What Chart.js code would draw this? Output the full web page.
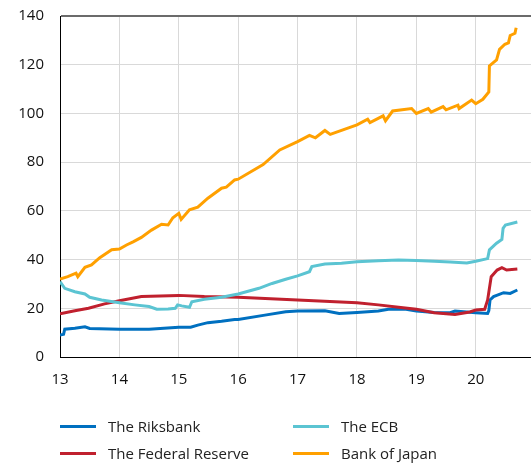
<!DOCTYPE html>
<html>
<head>
<meta charset="utf-8">
<script src="https://cdn.jsdelivr.net/npm/chart.js@4"></script>
<style>
  body { margin: 0; overflow: hidden; background: #fff; }
  #wrap { position: relative; width: 531px; height: 464px; }
  #legend { position: absolute; left: 0; top: 0; width: 531px; height: 464px; pointer-events: none;
    font-family: "Open Sans", sans-serif; font-size: 15px; color: #222; }
  .item { position: absolute; display: flex; align-items: center; white-space: nowrap; }
  .swatch { width: 36px; height: 3px; margin-right: 12px; }
</style>
</head>
<body>
<div id="wrap">
  <canvas id="chart" width="531" height="464"></canvas>
  <div id="legend"></div>
</div>
<script>
const xTicks = [13, 14, 15, 16, 17, 18, 19, 20];

const rbX = [13.0, 13.06, 13.08, 13.25, 13.42, 13.5, 14.0, 14.5, 15.0, 15.2, 15.32, 15.49, 15.72, 15.94, 16.0, 16.45, 16.8, 17.0, 17.46, 17.7, 18.0, 18.36, 18.53, 18.8, 19.0, 19.3, 19.57, 19.65, 20.0, 20.2, 20.22, 20.24, 20.3, 20.47, 20.58, 20.7];
const rbY = [9.0, 9.3, 11.4, 11.8, 12.4, 11.7, 11.4, 11.4, 12.2, 12.2, 13.1, 14.1, 14.7, 15.4, 15.4, 17.2, 18.6, 18.9, 19.0, 17.9, 18.3, 18.9, 19.6, 19.7, 18.9, 18.3, 18.2, 18.9, 18.2, 17.9, 19.0, 23.4, 24.8, 26.4, 26.1, 27.5];

const ecbX = [13.0, 13.08, 13.25, 13.42, 13.5, 13.7, 14.0, 14.26, 14.5, 14.63, 14.82, 14.94, 14.98, 15.05, 15.18, 15.22, 15.43, 15.72, 16.0, 16.35, 16.57, 16.8, 17.0, 17.2, 17.24, 17.46, 17.74, 18.0, 18.36, 18.7, 19.0, 19.3, 19.57, 19.85, 20.0, 20.2, 20.23, 20.35, 20.44, 20.46, 20.5, 20.7];
const ecbY = [30.9, 28.2, 26.8, 25.9, 24.5, 23.4, 22.3, 21.4, 20.7, 19.6, 19.7, 20.0, 21.4, 21.0, 20.4, 22.7, 23.7, 24.5, 25.9, 28.2, 30.2, 31.9, 33.3, 35.0, 37.1, 38.2, 38.5, 39.1, 39.5, 39.8, 39.6, 39.3, 39.0, 38.6, 39.3, 40.4, 44.0, 46.7, 48.3, 52.8, 54.2, 55.4];

const fedX = [13.0, 13.25, 13.48, 13.75, 14.0, 14.37, 15.0, 15.43, 16.0, 17.0, 18.0, 18.36, 18.7, 19.0, 19.3, 19.65, 19.9, 20.0, 20.15, 20.2, 20.26, 20.36, 20.44, 20.52, 20.7];
const fedY = [17.7, 19.0, 20.0, 21.8, 23.1, 24.8, 25.3, 24.8, 24.5, 23.4, 22.3, 21.4, 20.4, 19.6, 18.2, 17.5, 18.5, 19.3, 19.6, 23.4, 33.0, 35.7, 36.7, 35.7, 36.1];

const bojX = [13.0, 13.13, 13.27, 13.3, 13.42, 13.53, 13.67, 13.87, 14.0, 14.12, 14.23, 14.37, 14.54, 14.71, 14.82, 14.9, 15.0, 15.04, 15.18, 15.32, 15.49, 15.72, 15.8, 15.94, 16.0, 16.42, 16.7, 17.0, 17.2, 17.3, 17.46, 17.55, 18.0, 18.18, 18.22, 18.44, 18.48, 18.6, 18.92, 19.0, 19.2, 19.25, 19.45, 19.5, 19.7, 19.72, 19.93, 20.0, 20.12, 20.22, 20.23, 20.35, 20.4, 20.49, 20.55, 20.58, 20.66, 20.68];
const bojY = [32, 33, 34.4, 33, 36.8, 37.8, 40.8, 44, 44.3, 46, 47.3, 49.1, 52.1, 54.5, 54.2, 57.2, 59, 56.5, 60.4, 61.5, 65.2, 69.3, 69.7, 72.7, 73, 79, 85, 88.4, 91, 90, 93, 91.4, 95.3, 97.6, 96.2, 99, 97, 101, 102, 100, 102, 100.5, 102.8, 101.5, 103.4, 102, 105.5, 104, 105.8, 108.8, 119.5, 122, 126.3, 128.4, 129, 132, 132.9, 135.2];

const series = [
  { label: "The Riksbank", xs: rbX, ys: rbY, color: "#0070c0" },
  { label: "The ECB", xs: ecbX, ys: ecbY, color: "#5bc4d2" },
  { label: "The Federal Reserve", xs: fedX, ys: fedY, color: "#c0202e" },
  { label: "Bank of Japan", xs: bojX, ys: bojY, color: "#ffa000" }
];

const font = { family: "'Open Sans', sans-serif", size: 15 };

// draw order: Japan and ECB under, Fed and Riksbank on top
const drawOrder = [3, 1, 2, 0];

const chart = new Chart(document.getElementById("chart"), {
  type: "line",
  data: {
    datasets: drawOrder.map(i => {
      const s = series[i];
      return {
        label: s.label,
        data: s.xs.map((x, j) => ({ x: x, y: s.ys[j] })),
        borderColor: s.color,
        borderWidth: 3,
        pointRadius: 0,
        tension: 0,
        fill: false
      };
    })
  },
  options: {
    responsive: false,
    animation: false,
    layout: { padding: { top: 16, right: 0, left: 0, bottom: 0 } },
    plugins: { legend: { display: false }, tooltip: { enabled: false } },
    scales: {
      x: {
        type: "linear",
        min: 13,
        max: 20.93,
        afterBuildTicks: s => { s.ticks = xTicks.map(v => ({ value: v })); },
        afterFit: s => { s.height = 107; s.paddingLeft = 0; s.paddingRight = 0; },
        ticks: { font: font, color: "#111", padding: 14, maxRotation: 0, callback: v => v },
        grid: { color: "#d9d9d9", lineWidth: 1, drawTicks: false },
        border: { display: true, color: "#000", width: 1 }
      },
      y: {
        min: 0,
        max: 140,
        afterFit: s => { s.width = 60; s.paddingTop = 0; s.paddingBottom = 0; },
        ticks: { stepSize: 20, font: font, color: "#111", padding: 16 },
        grid: {
          color: c => c.tick && c.tick.value === 140 ? "#6b6b6b" : "#d9d9d9",
          lineWidth: c => c.tick && c.tick.value === 140 ? 2 : 1,
          drawTicks: false
        },
        border: { display: true, color: "#000", width: 1 }
      }
    }
  }
});

// legend in two columns below the chart
const legend = document.getElementById("legend");
const slots = [
  { left: 60, top: 426 }, { left: 293, top: 426 },
  { left: 60, top: 453 }, { left: 293, top: 453 }
];
series.forEach((s, i) => {
  const el = document.createElement("div");
  el.className = "item";
  el.style.left = slots[i].left + "px";
  el.style.top = (slots[i].top - 11) + "px";
  el.style.height = "22px";
  el.innerHTML = '<span class="swatch" style="background:' + s.color + '"></span><span>' + s.label + '</span>';
  legend.appendChild(el);
});
</script>
</body>
</html>
